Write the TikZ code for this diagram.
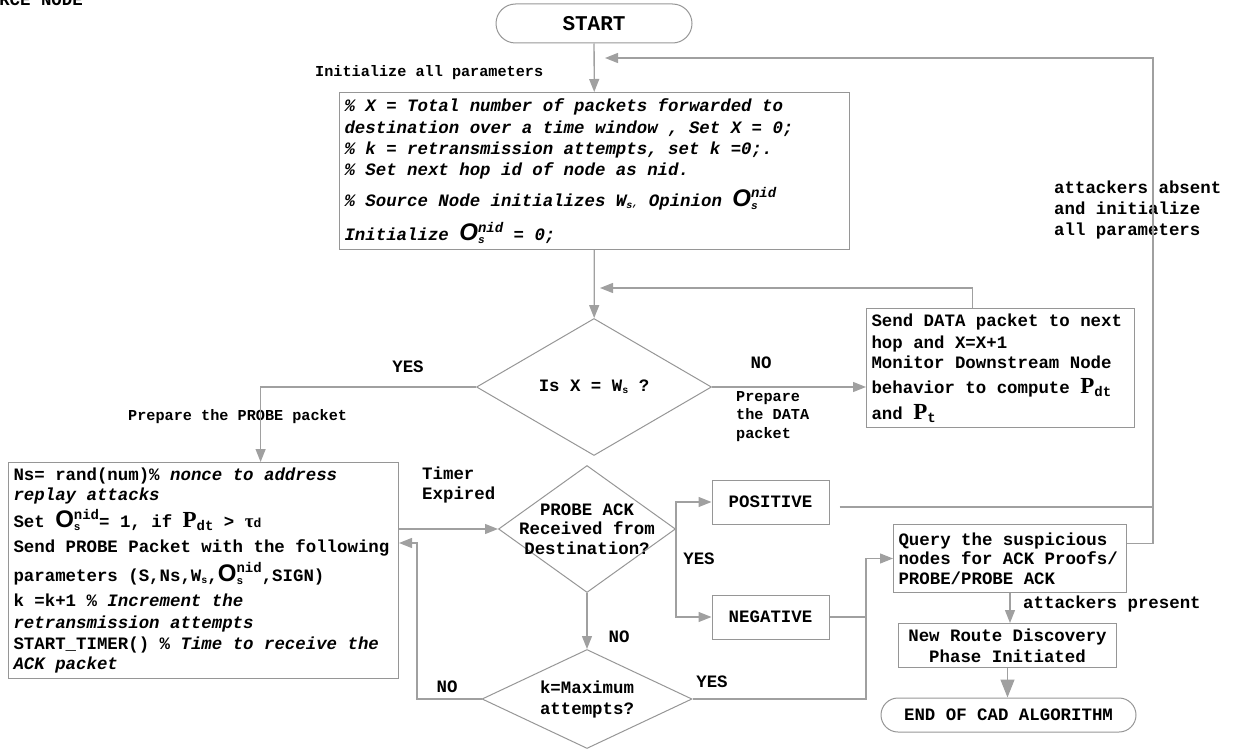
\documentclass[tikz,border=0pt]{standalone}
\usepackage{fontspec}
\setmainfont{Liberation Mono}
\newfontfamily\sansf{Liberation Sans}
\newfontfamily\seriff{Liberation Serif}
\usetikzlibrary{shapes.geometric,arrows.meta,calc}
\definecolor{lc}{RGB}{160,160,160}
\definecolor{bc}{RGB}{150,150,150}
\lineskiplimit=-100pt
\newcommand\noindentpar{\parindent0pt\relax}
\newcommand\myBigO{{\sansf\bfseries\fontsize{24}{24}\selectfont O}}
\newcommand\myOsn{\myBigO\rlap{\raisebox{-3pt}{\fontsize{11}{11}\selectfont s}}\raisebox{8.5pt}{\fontsize{14}{14}\selectfont nid}}
\newcommand\myWs{W\raisebox{-2pt}{\fontsize{10}{10}\selectfont s}}
\newcommand\myP{{\seriff\bfseries\fontsize{23}{23}\selectfont P}}
\newcommand\myPdt{\myP\raisebox{-3pt}{\fontsize{14}{14}\selectfont dt}}
\newcommand\myPt{\myP\raisebox{-3pt}{\fontsize{14}{14}\selectfont t}}
\newcommand\mytaud{{\seriff\bfseries\fontsize{19}{19}\selectfont τ}{\fontsize{13}{13}\selectfont d}}
\tikzset{
  box/.style={draw=bc, line width=1pt, rectangle, inner sep=5pt, anchor=north west, text justified, font={\bfseries\fontsize{17.4}{20.5}\selectfont\noindentpar}},
  pill/.style={draw=bc, line width=1pt, rectangle, inner sep=0pt, font=\bfseries\fontsize{17.4}{20}\selectfont},
  dia/.style={draw=bc, line width=1pt, diamond, inner sep=0pt},
  dtext/.style={font=\bfseries\fontsize{17.4}{19.5}\selectfont, align=center, inner sep=0pt},
  arr/.style={draw=lc, line width=1.3pt, -{Triangle[length=13pt,width=10pt]}},
  bigarr/.style={draw=lc, line width=1.3pt, -{Triangle[length=18pt,width=14pt]}},
  ln/.style={draw=lc, line width=1.3pt},
  lbl/.style={font=\bfseries\fontsize{17.4}{20}\selectfont, align=left, inner sep=0pt},
  lbls/.style={font=\bfseries\fontsize{15.2}{18.5}\selectfont, align=left, inner sep=0pt}
}
\begin{document}
\begin{tikzpicture}[x=1pt,y=-1pt]
\useasboundingbox (0,0) rectangle (1235,752);
% terminals
\node[pill, rounded corners=19.5pt, minimum width=196pt, minimum height=39pt, font=\bfseries\fontsize{21}{22}\selectfont] (start) at (594,23.5) {START};
\node[pill, rounded corners=17pt, minimum width=255pt, minimum height=34pt] (end) at (1008.5,715) {END OF CAD ALGORITHM};
% boxes
\node[box, text width=500pt, minimum height=157pt, font={\bfseries\itshape\fontsize{17.4}{21}\selectfont\noindentpar}] (init) at (339,92) {\% X = Total number of packets forwarded to\\[1pt]
destination over a time window , Set X = 0;\\
\% k = retransmission attempts, set k =0;.\\
\% Set next hop id of node as nid.\\[8pt]
\% Source Node initializes \myWs{\fontsize{10}{10}\selectfont,} Opinion \myOsn\\[11pt]
Initialize \myOsn{} = 0;};
\node[box, text width=258pt, minimum height=119pt] (data) at (866,308) {Send DATA packet to next\\[1.5pt]
hop and X=X+1\\
Monitor Downstream Node\\[4.5pt]
behavior to compute \myPdt\\[5.5pt]
and \myPt};
\node[box, text width=380pt, minimum height=210pt] (probe) at (8,462) {Ns= rand(num)\% \textit{nonce to address}\\
\textit{replay attacks}\\[4pt]
Set \myOsn= 1, if \myPdt{} > \mytaud\\[4pt]
Send PROBE Packet with the following\\[5.5pt]
parameters (S,Ns,\myWs,\myOsn,SIGN)\\[5pt]
k =k+1 \% \textit{Increment the}\\[1.5pt]
\textit{retransmission attempts}\\
START\_TIMER() \% \textit{Time to receive the}\\
\textit{ACK packet}};
\node[box, anchor=center, minimum width=117pt, minimum height=44pt] (pos) at (770.5,502) {POSITIVE};
\node[box, anchor=center, minimum width=117pt, minimum height=44pt] (neg) at (770.5,617) {NEGATIVE};
\node[box, text width=223pt, minimum height=68pt, font={\bfseries\fontsize{17.4}{19.5}\selectfont\noindentpar}] (query) at (893,524) {Query the suspicious\\
nodes for ACK Proofs/\\
PROBE/PROBE ACK};
\node[box, text width=208pt, minimum height=38pt, font={\bfseries\fontsize{17.4}{21}\selectfont\noindentpar}] (route) at (898,623) {\centering New Route Discovery\\Phase Initiated\par};
% decisions
\node[dia, minimum width=235pt, minimum height=137pt, label={[dtext]center:Is X = \myWs\ ?}] (d1) at (594,387) {};
\node[dia, minimum width=177pt, minimum height=127pt, label={[dtext]center:PROBE ACK\\Received from\\Destination?}] (d2) at (587,529) {};
\node[dia, minimum width=210pt, minimum height=99pt, label={[dtext, font=\bfseries\fontsize{17.4}{21}\selectfont]center:k=Maximum\\attempts?}] (d3) at (587,699) {};
% labels
\node[lbl, anchor=base east] (src) at (83,6) {SOURCE NODE};
\node[lbls, anchor=west] (l1) at (315,73) {Initialize all parameters};
\node[lbl] (l2) at (408,367) {YES};
\node[lbls, anchor=west] (l3) at (128,417) {Prepare the PROBE packet};
\node[lbl] (l4) at (761,363) {NO};
\node[lbls, anchor=north west] (l5) at (736,391) {Prepare\\the DATA\\packet};
\node[lbl, anchor=north west] (l6) at (422,467) {Timer\\Expired};
\node[lbl] (l7) at (699,559) {YES};
\node[lbl] (l8) at (619,637) {NO};
\node[lbl] (l9) at (447,687) {NO};
\node[lbl] (l10) at (712,682) {YES};
\node[lbl, anchor=west] (l11) at (1023,604) {attackers present};
\node[lbl, anchor=north west, font=\bfseries\fontsize{17.4}{21}\selectfont] (l12) at (1054,181) {attackers absent\\and initialize\\all parameters};
% connectors
\coordinate (j1) at (600,288);
\coordinate (j2) at (417,543);
\coordinate (j3) at (866,0);
\coordinate (j4) at (1153,58);
\coordinate (j5) at (605,58);
\draw[arr] (start) -- (init);
\draw[arr] (init) -- (d1);
\draw[arr] (d1.west) -| ($(probe.north west)!0.646!(probe.north east)$);
\draw[arr] (d1.east) -- (d1.east -| data.west);
\draw[arr] ($(data.north west)!0.396!(data.north east)$) |- (j1);
\draw[arr] (probe.east |- d2.west) -- (d2.west);
\draw[arr] (d2) -- (d3);
\draw[arr] (d3.west) -| (j2) -- (j2 -| probe.east);
\draw[arr] (d2.east) |- (pos.west);
\draw[arr] (d2.east) |- (neg.west);
\draw[arr] (d3.east) -| (j3 |- query.west) -- (query.west);
\draw[ln] (neg.east) -- (neg.east -| j3);
\draw[arr] ([yshift=15pt]query.east) -| (j4) -- (j5);
\draw[ln] ([xshift=10pt,yshift=-5pt]pos.east) -- ([yshift=-5pt]pos.east -| j4);
\draw[arr] (query.south) -- (query.south |- route.north);
\draw[bigarr] (route.south) -- (route.south |- end.north);
\end{tikzpicture}
\end{document}
